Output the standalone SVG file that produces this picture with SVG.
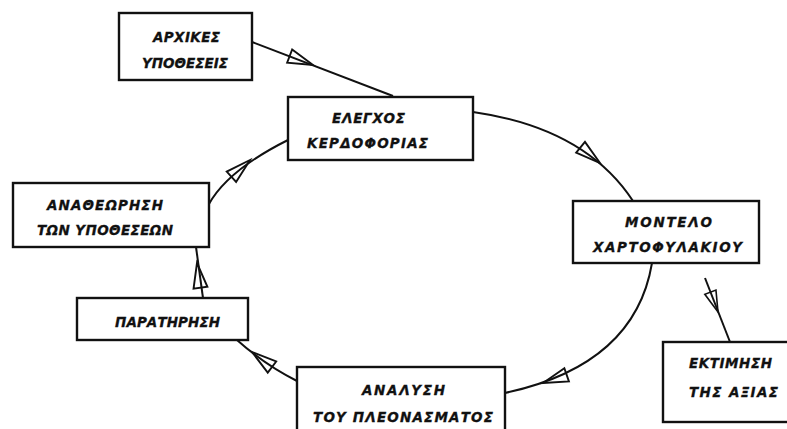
<svg xmlns="http://www.w3.org/2000/svg" width="787" height="429" viewBox="0 0 787 429">
<style>
.box{fill:#fff;stroke:#111;stroke-width:2.4}
.lbl{font-family:"DejaVu Sans","Liberation Sans",sans-serif;font-weight:bold;font-style:italic;font-size:13.5px;fill:#111;stroke:#111;stroke-width:0.3}
.ln{fill:none;stroke:#111;stroke-width:2}
.ah{fill:none;stroke:#111;stroke-width:1.9;stroke-linejoin:miter}
</style>
<defs>
<path id="tri" d="M0,0 L-25,-7 L-25,7 Z"/>
</defs>
<rect width="787" height="429" fill="#fff"/>
<g id="connectors">
<path class="ln" d="M252,42 L393,96"/>
<use href="#tri" class="ah" transform="translate(313,65) rotate(21)"/>
<path class="ln" d="M473,112 Q585,128 633,201"/>
<use href="#tri" class="ah" transform="translate(600,163) rotate(39)"/>
<path class="ln" d="M705,278 L730,342"/>
<use href="#tri" class="ah" transform="translate(718,312) rotate(69) scale(0.85)"/>
<path class="ln" d="M652,263 Q635,365 505,393"/>
<use href="#tri" class="ah" transform="translate(543,383) rotate(161)"/>
<path class="ln" d="M297,381 Q265,365 237,340"/>
<use href="#tri" class="ah" transform="translate(252,352) rotate(217)"/>
<path class="ln" d="M203,298 L196,247"/>
<use href="#tri" class="ah" transform="translate(197,263) rotate(-98)"/>
<path class="ln" d="M209,204 Q228,170 288,140"/>
<use href="#tri" class="ah" transform="translate(250,160) rotate(-42)"/>
</g>
<g id="n-arxikes">
<rect class="box" x="119" y="13" width="133" height="67"/>
<text class="lbl" x="153" y="42" textLength="67">ΑΡΧΙΚΕΣ</text>
<text class="lbl" x="142" y="68" textLength="86">ΥΠΟΘΕΣΕΙΣ</text>
</g>
<g id="n-elegxos">
<rect class="box" x="288" y="97" width="185" height="63"/>
<text class="lbl" x="332" y="123" textLength="73">ΕΛΕΓΧΟΣ</text>
<text class="lbl" x="307" y="148" textLength="121">ΚΕΡΔΟΦΟΡΙΑΣ</text>
</g>
<g id="n-montelo">
<rect class="box" x="573" y="201" width="186" height="62"/>
<text class="lbl" x="625" y="227" textLength="87">ΜΟΝΤΕΛΟ</text>
<text class="lbl" x="593" y="252" textLength="149">ΧΑΡΤΟΦΥΛΑΚΙΟΥ</text>
</g>
<g id="n-ektimisi">
<rect class="box" x="663" y="342" width="130" height="80"/>
<text class="lbl" x="689" y="368" textLength="83">ΕΚΤΙΜΗΣΗ</text>
<text class="lbl" x="689" y="397" textLength="89">ΤΗΣ ΑΞΙΑΣ</text>
</g>
<g id="n-analysi">
<rect class="box" x="297" y="367" width="208" height="70"/>
<text class="lbl" x="362" y="395" textLength="83">ΑΝΑΛΥΣΗ</text>
<text class="lbl" x="313" y="422" textLength="180">ΤΟΥ ΠΛΕΟΝΑΣΜΑΤΟΣ</text>
</g>
<g id="n-paratirisi">
<rect class="box" x="77" y="298" width="171" height="42"/>
<text class="lbl" x="115" y="327" textLength="105">ΠΑΡΑΤΗΡΗΣΗ</text>
</g>
<g id="n-anatheorisi">
<rect class="box" x="13" y="183" width="196" height="64"/>
<text class="lbl" x="47" y="210" textLength="116">ΑΝΑΘΕΩΡΗΣΗ</text>
<text class="lbl" x="37" y="235" textLength="136">ΤΩΝ ΥΠΟΘΕΣΕΩΝ</text>
</g>
</svg>
